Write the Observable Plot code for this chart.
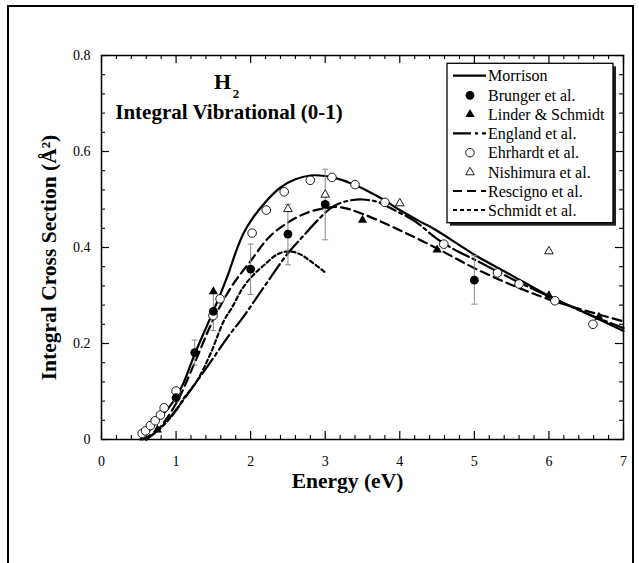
<!DOCTYPE html>
<html>
<head>
<meta charset="utf-8">
<script src="https://cdn.jsdelivr.net/npm/d3@7"></script>
<script src="https://cdn.jsdelivr.net/npm/@observablehq/plot@0.6"></script>
<style>
  html, body { margin: 0; padding: 0; background: #fff; overflow: hidden; }
  #wrap { position: relative; width: 639px; height: 563px; }
  #border { position: absolute; left: 7px; top: 5px; width: 627px; height: 700px; box-sizing: border-box; border: 2.5px solid #000; pointer-events: none; }
</style>
</head>
<body>
<div id="wrap"><div id="border"></div></div>
<script>
// ---- data ----
const morrisonE = [0.52,0.6,0.7,0.8,0.9,1.0,1.1,1.25,1.4,1.5,1.6,1.7,1.8,1.9,2.0,2.2,2.4,2.6,2.8,3.0,3.2,3.4,3.6,3.8,4.0,4.25,4.5,4.8,5.0,5.5,6.0,6.5,7.0];
const morrisonS = [0,0.012,0.03,0.048,0.066,0.088,0.118,0.178,0.232,0.268,0.305,0.345,0.39,0.428,0.455,0.495,0.525,0.542,0.55,0.549,0.542,0.53,0.515,0.498,0.478,0.456,0.435,0.405,0.385,0.342,0.299,0.263,0.226];

const englandE = [0.6,0.7,0.8,1.0,1.25,1.5,1.7,1.9,2.1,2.3,2.5,2.7,2.9,3.1,3.3,3.5,3.7,3.9,4.2,4.5,4.8,5.0,5.5,6.0,6.5,7.0];
const englandS = [0,0.012,0.025,0.062,0.115,0.17,0.215,0.255,0.3,0.345,0.388,0.423,0.457,0.485,0.497,0.5,0.495,0.48,0.455,0.418,0.39,0.375,0.335,0.298,0.263,0.232];

const resE = [0.55,0.75,1.0,1.25,1.5,1.75,2.0,2.25,2.5,2.75,3.0,3.2,3.5,4.0,4.5,5.0,5.5,6.0,6.5,7.0];
const resS = [0,0.02,0.075,0.16,0.25,0.32,0.372,0.422,0.452,0.472,0.482,0.484,0.47,0.436,0.398,0.357,0.322,0.292,0.268,0.246];

const schmidtE = [0.6,0.8,1.0,1.1,1.28,1.46,1.64,1.75,1.9,2.05,2.2,2.35,2.5,2.65,2.8,3.0];
const schmidtS = [0,0.025,0.06,0.085,0.122,0.178,0.247,0.275,0.317,0.345,0.366,0.385,0.392,0.387,0.372,0.348];

const brungerE  = [1.0,1.25,1.5,2.0,2.5,3.0,5.0];
const brungerS  = [0.087,0.181,0.267,0.355,0.428,0.49,0.332];
const brungerLo = [0.079,0.155,0.227,0.302,0.364,0.416,0.282];
const brungerHi = [0.095,0.207,0.305,0.407,0.49,0.563,0.383];

const linderE = [0.75,1.5,3.5,4.5,6.0,6.67];
const linderS = [0.02,0.308,0.457,0.395,0.30,0.255];

const ehrE = [0.545,0.59,0.656,0.72,0.79,0.84,1.0,1.495,1.59,2.02,2.21,2.45,2.8,3.09,3.4,3.8,4.59,5.31,5.6,6.08,6.59];
const ehrS = [0.0125,0.018,0.029,0.039,0.051,0.066,0.101,0.258,0.293,0.43,0.478,0.516,0.54,0.546,0.531,0.494,0.407,0.347,0.324,0.289,0.24];

const nishE = [2.5,3.0,4.0,6.0];
const nishS = [0.48,0.51,0.492,0.392];

const xTicks = [0,1,2,3,4,5,6,7];
const xMinor = [0.2,0.4,0.6,0.8,1.2,1.4,1.6,1.8,2.2,2.4,2.6,2.8,3.2,3.4,3.6,3.8,4.2,4.4,4.6,4.8,5.2,5.4,5.6,5.8,6.2,6.4,6.6,6.8];
const yTicks = [0,0.2,0.4,0.6,0.8];
const yMinor = [0.04,0.08,0.12,0.16,0.24,0.28,0.32,0.36,0.44,0.48,0.52,0.56,0.64,0.68,0.72,0.76];

const legendLabels = ["Morrison","Brunger et al.","Linder & Schmidt","England et al.","Ehrhardt et al.","Nishimura et al.","Rescigno et al.","Schmidt et al."];

// ---- build tables ----
const zip = (E, S) => E.map((e, i) => ({E: e, S: S[i]}));
const morrison = zip(morrisonE, morrisonS);
const england = zip(englandE, englandS);
const rescigno = zip(resE, resS);
const schmidt = zip(schmidtE, schmidtS);
const brunger = brungerE.map((e, i) => ({E: e, S: brungerS[i], lo: brungerLo[i], hi: brungerHi[i]}));
const linder = zip(linderE, linderS);
const ehr = zip(ehrE, ehrS);
const nish = zip(nishE, nishS);

const W = 639, H = 563, mL = 101, mR = 16, mT = 55, mB = 124;
const pW = W - mL - mR, pH = H - mT - mB;
const serif = "'Liberation Serif', 'Times New Roman', serif";
const DASH = {england: "18,4,3,4", rescigno: "9,5", schmidt: "4,3"};
const capSym = {draw(ctx) { ctx.moveTo(-3, 0); ctx.lineTo(3, 0); }};

const svg = Plot.plot({
  width: W, height: H, marginLeft: mL, marginRight: mR, marginTop: mT, marginBottom: mB,
  style: {fontFamily: serif, fontSize: "14px", background: "white", color: "black", overflow: "visible"},
  x: {domain: [0, 7], ticks: xTicks, tickSize: 0, tickPadding: 17, tickFormat: d => String(d), label: null},
  y: {domain: [0, 0.8], ticks: yTicks, tickSize: 0, tickPadding: 11, tickFormat: d => String(d), label: null},
  marks: [
    // inward ticks on all four sides
    Plot.tickX(xTicks, {x: d => d, insetTop: pH - 8, strokeWidth: 1.2}),
    Plot.tickX(xTicks, {x: d => d, insetBottom: pH - 8, strokeWidth: 1.2}),
    Plot.tickX(xMinor, {x: d => d, insetTop: pH - 4, strokeWidth: 1.1}),
    Plot.tickX(xMinor, {x: d => d, insetBottom: pH - 4, strokeWidth: 1.1}),
    Plot.tickY(yTicks, {y: d => d, insetRight: pW - 8, strokeWidth: 1.2}),
    Plot.tickY(yTicks, {y: d => d, insetLeft: pW - 8, strokeWidth: 1.2}),
    Plot.tickY(yMinor, {y: d => d, insetRight: pW - 4, strokeWidth: 1.1}),
    Plot.tickY(yMinor, {y: d => d, insetLeft: pW - 4, strokeWidth: 1.1}),
    // curves
    Plot.line(morrison, {x: "E", y: "S", curve: "catmull-rom", stroke: "black", strokeWidth: 2.2}),
    Plot.line(england, {x: "E", y: "S", curve: "catmull-rom", stroke: "black", strokeWidth: 2.2, strokeDasharray: DASH.england}),
    Plot.line(rescigno, {x: "E", y: "S", curve: "catmull-rom", stroke: "black", strokeWidth: 2.2, strokeDasharray: DASH.rescigno}),
    Plot.line(schmidt, {x: "E", y: "S", curve: "catmull-rom", stroke: "black", strokeWidth: 2.2, strokeDasharray: DASH.schmidt}),
    // error bars
    Plot.ruleX(brunger, {x: "E", y1: "lo", y2: "hi", stroke: "#888", strokeWidth: 1}),
    Plot.dot(brunger, {x: "E", y: "lo", symbol: capSym, stroke: "#888", fill: "none", strokeWidth: 1, r: 3}),
    Plot.dot(brunger, {x: "E", y: "hi", symbol: capSym, stroke: "#888", fill: "none", strokeWidth: 1, r: 3}),
    // points
    Plot.dot(ehr, {x: "E", y: "S", r: 4.3, stroke: "black", fill: "white", strokeWidth: 0.9}),
    Plot.dot(nish, {x: "E", y: "S", symbol: "triangle", r: 3.2, stroke: "black", fill: "white", strokeWidth: 0.9}),
    Plot.dot(linder, {x: "E", y: "S", symbol: "triangle", r: 3.4, fill: "black", stroke: "none"}),
    Plot.dot(brunger, {x: "E", y: "S", r: 4.4, fill: "black", stroke: "none"}),
    // frame
    Plot.frame({stroke: "black", strokeWidth: 1.5}),
    // texts
    Plot.text(["H"], {frameAnchor: "top-left", dx: 121, dy: 26, fontSize: 22, fontWeight: "bold", fontFamily: serif, textAnchor: "middle", lineAnchor: "middle"}),
    Plot.text(["2"], {frameAnchor: "top-left", dx: 134.5, dy: 38.5, fontSize: 13, fontWeight: "bold", fontFamily: serif, textAnchor: "middle", lineAnchor: "middle"}),
    Plot.text(["Integral Vibrational (0-1)"], {frameAnchor: "top-left", dx: 127.5, dy: 57, fontSize: 21, fontWeight: "bold", fontFamily: serif, textAnchor: "middle", lineAnchor: "middle"}),
    Plot.text(["Energy (eV)"], {frameAnchor: "bottom", dx: -15, dy: 42, fontSize: 21.5, fontWeight: "bold", fontFamily: serif, textAnchor: "middle", lineAnchor: "middle"}),
    Plot.text(["Integral Cross Section (Å²)"], {frameAnchor: "left", rotate: -90, dx: -52, dy: 10, fontSize: 21.5, fontWeight: "bold", fontFamily: serif, textAnchor: "middle", lineAnchor: "middle"})
  ]
});

// ---- legend box ----
const lg = d3.select(svg).append("g").attr("font-family", serif).attr("font-size", 16).attr("text-anchor", "start");
const bx = 447, by = 63.3, bw = 166, bh = 159.4;
lg.append("rect").attr("x", bx + 3).attr("y", by + 3).attr("width", bw).attr("height", bh).attr("fill", "#222");
lg.append("rect").attr("x", bx).attr("y", by).attr("width", bw).attr("height", bh).attr("fill", "white").attr("stroke", "black").attr("stroke-width", 1.3);
const rowY = [75.7, 95.3, 114.3, 133.3, 152.7, 172.3, 191, 210];
const kinds = [
  {t: "line", dash: null},
  {t: "dot", sym: d3.symbolCircle, size: Math.PI * 4.4 * 4.4, fill: "black"},
  {t: "dot", sym: d3.symbolTriangle, size: Math.PI * 3.4 * 3.4, fill: "black"},
  {t: "line", dash: DASH.england},
  {t: "dot", sym: d3.symbolCircle, size: Math.PI * 4.3 * 4.3, fill: "white"},
  {t: "dot", sym: d3.symbolTriangle, size: Math.PI * 3.2 * 3.2, fill: "white"},
  {t: "line", dash: DASH.rescigno},
  {t: "line", dash: DASH.schmidt}
];
legendLabels.forEach((lab, i) => {
  const k = kinds[i], y = rowY[i];
  if (k.t === "line") {
    const ln = lg.append("line").attr("x1", 453).attr("x2", 486).attr("y1", y).attr("y2", y)
      .attr("stroke", "black").attr("stroke-width", 2.2);
    if (k.dash) ln.attr("stroke-dasharray", k.dash);
  } else {
    lg.append("path").attr("d", d3.symbol(k.sym, k.size)()).attr("transform", `translate(470,${y})`)
      .attr("fill", k.fill).attr("stroke", k.fill === "white" ? "black" : "none").attr("stroke-width", 0.9);
  }
  lg.append("text").attr("x", 488).attr("y", y).attr("dy", "0.35em").attr("text-anchor", "start").text(lab);
});

document.getElementById("wrap").appendChild(svg);
svg.style.position = "absolute";
svg.style.left = "0px";
svg.style.top = "0px";
document.getElementById("wrap").appendChild(document.getElementById("border"));
</script>
</body>
</html>
